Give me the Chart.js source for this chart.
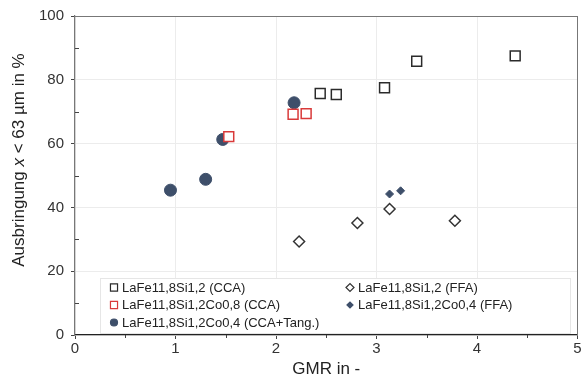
<!DOCTYPE html>
<html>
<head>
<meta charset="utf-8">
<script src="https://cdn.jsdelivr.net/npm/chart.js@4"></script>
<style>
  html, body { margin: 0; padding: 0; background: #fff; }
  #wrap { width: 586px; height: 389px; }
</style>
</head>
<body>
<div id="wrap"><canvas id="c" width="586" height="389"></canvas></div>
<script>
// data
var ccaX      = [2.44, 2.60, 3.08, 3.40, 4.38];
var ccaY      = [75.7, 75.4, 77.5, 85.8, 87.5];
var ffaX      = [2.23, 2.81, 3.13, 3.78];
var ffaY      = [29.3, 35.1, 39.5, 35.8];
var co8CcaX   = [1.53, 2.17, 2.30];
var co8CcaY   = [62.2, 69.2, 69.4];
var co4FfaX   = [3.13, 3.24];
var co4FfaY   = [44.2, 45.2];
var tangX     = [0.95, 1.30, 1.47, 2.18];
var tangY     = [45.4, 48.8, 61.3, 72.8];

var labels = [
  "LaFe11,8Si1,2 (CCA)",
  "LaFe11,8Si1,2 (FFA)",
  "LaFe11,8Si1,2Co0,8 (CCA)",
  "LaFe11,8Si1,2Co0,4 (FFA)",
  "LaFe11,8Si1,2Co0,4 (CCA+Tang.)"
];
var xTicks = [0, 1, 2, 3, 4, 5];
var yTicks = [0, 20, 40, 60, 80, 100];

function pts(xs, ys) {
  var out = [];
  for (var i = 0; i < xs.length; i++) out.push({x: xs[i], y: ys[i]});
  return out;
}

var slate = '#3e4f6a';
var FONT = '"Liberation Sans", Arial, sans-serif';

var datasets = [
  {label: labels[0], data: pts(ccaX, ccaY), pointStyle: 'rect', pointRadius: 7,
   backgroundColor: '#fff', borderColor: '#2b2b2b', borderWidth: 1.5, legendR: 5},
  {label: labels[1], data: pts(ffaX, ffaY), pointStyle: 'rectRot', pointRadius: 5.5,
   backgroundColor: '#fff', borderColor: '#333', borderWidth: 1.5, legendR: 4},
  {label: labels[2], data: pts(co8CcaX, co8CcaY), pointStyle: 'rect', pointRadius: 7,
   backgroundColor: '#fff', borderColor: '#d93a3a', borderWidth: 1.5, legendR: 5},
  {label: labels[3], data: pts(co4FfaX, co4FfaY), pointStyle: 'rectRot', pointRadius: 4,
   backgroundColor: slate, borderColor: slate, borderWidth: 1, legendR: 3},
  {label: labels[4], data: pts(tangX, tangY), pointStyle: 'circle', pointRadius: 6,
   backgroundColor: slate, borderColor: slate, borderWidth: 1, legendR: 3.5}
];

// legend inside plot, two columns, plus axis titles and minor ticks
var extras = {
  id: 'extras',
  afterDraw: function(chart) {
    var ctx = chart.ctx;
    var xs = chart.scales.x, ys = chart.scales.y;
    var area = chart.chartArea;
    ctx.save();

    // minor ticks
    ctx.strokeStyle = '#444';
    ctx.lineWidth = 1;
    ctx.beginPath();
    for (var v = 10; v < 100; v += 20) {
      var py = Math.round(ys.getPixelForValue(v)) + 0.5;
      ctx.moveTo(area.left, py); ctx.lineTo(area.left + 4, py);
    }
    for (var u = 0.5; u < 5; u += 1) {
      var px = Math.round(xs.getPixelForValue(u)) + 0.5;
      ctx.moveTo(px, area.bottom); ctx.lineTo(px, area.bottom + 3);
    }
    ctx.stroke();

    // legend box
    var bx = 100, by = 278, bw = 470, bh = 55;
    ctx.fillStyle = '#fff';
    ctx.fillRect(bx, by, bw, bh);
    ctx.strokeStyle = '#e6e6e6';
    ctx.strokeRect(bx + 0.5, by + 0.5, bw, bh);

    var slots = [[114, 287.5], [350, 287.5], [114, 305], [350, 305], [114, 322.5]];
    ctx.font = '13px ' + FONT;
    ctx.textBaseline = 'middle';
    ctx.textAlign = 'left';
    chart.data.datasets.forEach(function(ds, i) {
      var s = slots[i];
      ctx.fillStyle = ds.backgroundColor;
      ctx.strokeStyle = ds.borderColor;
      ctx.lineWidth = 1.2;
      Chart.helpers.drawPoint(ctx, {pointStyle: ds.pointStyle, radius: ds.legendR, borderWidth: 1.2}, s[0], s[1]);
      ctx.fillStyle = '#222';
      ctx.fillText(ds.label, s[0] + 8, s[1] + 0.5);
    });

    // x title
    ctx.fillStyle = '#222';
    ctx.font = '17px ' + FONT;
    ctx.textAlign = 'center';
    ctx.fillText('GMR in -', (area.left + area.right) / 2, 369);

    // y title with italic x
    var parts = [['Ausbringung ', '17px '], ['x', 'italic 17px '], [' < 63 \u00b5m in %', '17px ']];
    var total = 0;
    parts.forEach(function(p) { ctx.font = p[1] + FONT; total += ctx.measureText(p[0]).width; });
    ctx.translate(19, 160);
    ctx.rotate(-Math.PI / 2);
    ctx.textAlign = 'left';
    var cx = -total / 2;
    parts.forEach(function(p) {
      ctx.font = p[1] + FONT;
      ctx.fillText(p[0], cx, 0);
      cx += ctx.measureText(p[0]).width;
    });
    ctx.restore();
  }
};

new Chart(document.getElementById('c'), {
  type: 'scatter',
  data: {datasets: datasets},
  options: {
    responsive: false,
    animation: false,
    layout: {padding: {top: 15, right: 8, left: 0, bottom: 0}},
    plugins: {legend: {display: false}, tooltip: {enabled: false}},
    scales: {
      x: {
        min: 0, max: 5,
        afterFit: function(s) { s.height = 54; },
        afterBuildTicks: function(s) { s.ticks = xTicks.map(function(v) { return {value: v}; }); },
        grid: {color: '#ececec', tickColor: '#444', tickLength: 4},
        border: {color: '#222', width: 1.2},
        ticks: {color: '#333', font: {size: 15, family: FONT}, padding: 1, maxRotation: 0}
      },
      y: {
        min: 0, max: 100,
        afterFit: function(s) { s.width = 75; },
        afterBuildTicks: function(s) { s.ticks = yTicks.map(function(v) { return {value: v}; }); },
        grid: {color: '#ececec', tickColor: '#444', tickLength: 4},
        border: {color: '#777', width: 1.2},
        ticks: {color: '#333', font: {size: 15, family: FONT}, padding: 7}
      },
      x2: {
        position: 'top', min: 0, max: 5, display: true,
        afterFit: function(s) { s.height = 0; },
        grid: {display: false, drawTicks: false},
        border: {color: '#777', width: 1},
        ticks: {display: false}
      },
      y2: {
        position: 'right', min: 0, max: 100, display: true,
        afterFit: function(s) { s.width = 0; },
        grid: {display: false, drawTicks: false},
        border: {color: '#777', width: 1},
        ticks: {display: false}
      }
    }
  },
  plugins: [extras]
});
</script>
</body>
</html>
